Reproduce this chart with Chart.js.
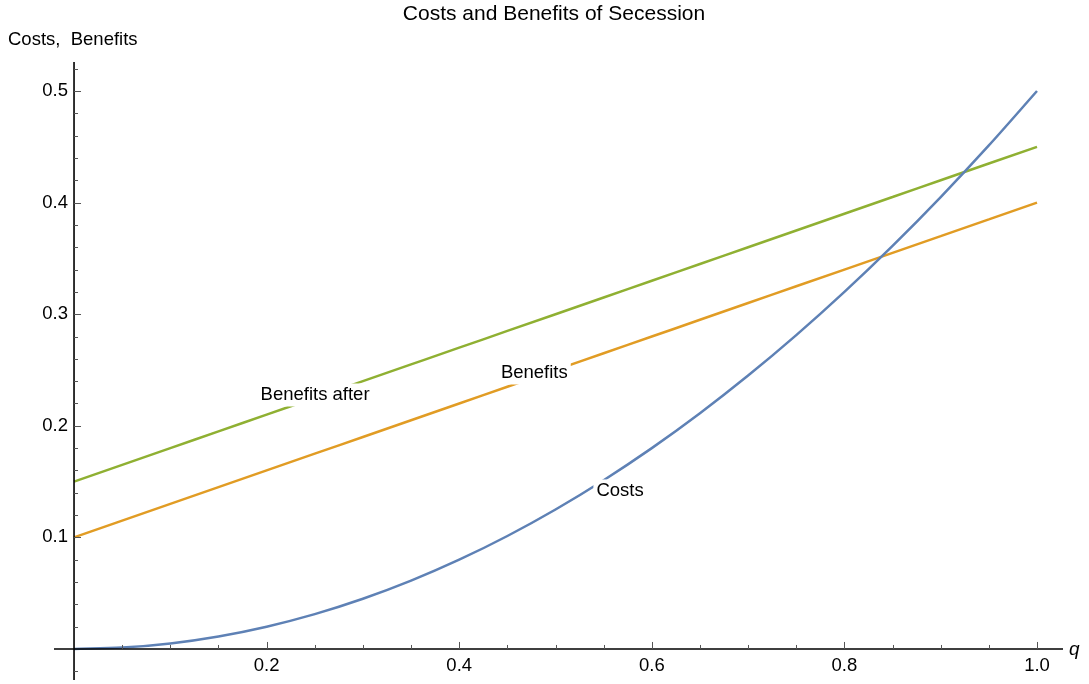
<!DOCTYPE html>
<html>
<head>
<meta charset="utf-8">
<script src="https://cdn.jsdelivr.net/npm/chart.js@4"></script>
<style>
  html, body { margin: 0; padding: 0; background: #fff; }
  #wrap { width: 1089px; height: 684px; }
</style>
</head>
<body>
<div id="wrap"><canvas id="chart"></canvas></div>
<script>
// q values read along the horizontal axis
const qValues = [0, 0.05, 0.1, 0.15, 0.2, 0.25, 0.3, 0.35, 0.4, 0.45, 0.5,
  0.55, 0.6, 0.65, 0.7, 0.75, 0.8, 0.85, 0.9, 0.95, 1.0];
const costs = [0, 0.00125, 0.005, 0.01125, 0.02, 0.03125, 0.045, 0.06125, 0.08, 0.10125, 0.125,
  0.15125, 0.18, 0.21125, 0.245, 0.28125, 0.32, 0.36125, 0.405, 0.45125, 0.5];
const benefits = [0.1, 0.115, 0.13, 0.145, 0.16, 0.175, 0.19, 0.205, 0.22, 0.235, 0.25,
  0.265, 0.28, 0.295, 0.31, 0.325, 0.34, 0.355, 0.37, 0.385, 0.4];
const benefitsAfter = [0.15, 0.165, 0.18, 0.195, 0.21, 0.225, 0.24, 0.255, 0.27, 0.285, 0.3,
  0.315, 0.33, 0.345, 0.36, 0.375, 0.39, 0.405, 0.42, 0.435, 0.45];
const xTickLabels = [0.2, 0.4, 0.6, 0.8, 1.0];
const yTickLabels = [0.1, 0.2, 0.3, 0.4, 0.5];

// where each curve label sits: [q, value]
const curveLabels = [
  { text: 'Benefits after', at: [0.2503, 0.2276] },
  { text: 'Benefits', at: [0.478, 0.2473] },
  { text: 'Costs', at: [0.567, 0.1416] }
];

const FONT = 'Arial, "Liberation Sans", sans-serif';
const pts = ys => qValues.map((q, i) => ({ x: q, y: ys[i] }));

// Mathematica-style axes crossing at the origin, ticks, labels and titles
const axesPlugin = {
  id: 'axesPlugin',
  afterDatasetsDraw(chart) {
    const { ctx, scales: { x, y } } = chart;
    const x0 = x.getPixelForValue(0);
    const y0 = y.getPixelForValue(0);
    ctx.save();

    // curve labels with white boxes over the lines
    ctx.font = '18.5px ' + FONT;
    ctx.textAlign = 'center';
    ctx.textBaseline = 'middle';
    curveLabels.forEach((l) => {
      const px = x.getPixelForValue(l.at[0]);
      const py = y.getPixelForValue(l.at[1]);
      const w = ctx.measureText(l.text).width + 6;
      ctx.fillStyle = '#fff';
      ctx.fillRect(px - w / 2, py - 11.5, w, 23);
      ctx.fillStyle = '#000';
      ctx.fillText(l.text, px, py);
    });

    // axis lines
    ctx.strokeStyle = '#000';
    ctx.lineWidth = 1.6;
    ctx.beginPath();
    ctx.moveTo(chart.chartArea.left, y0);
    ctx.lineTo(chart.chartArea.right, y0);
    ctx.moveTo(x0, chart.chartArea.top);
    ctx.lineTo(x0, chart.chartArea.bottom);
    ctx.stroke();

    // x ticks every 0.05, upward
    ctx.strokeStyle = '#555';
    ctx.lineWidth = 1;
    for (let i = 1; i <= 20; i++) {
      const px = Math.round(x.getPixelForValue(i * 0.05)) + 0.5;
      const len = i % 4 === 0 ? 7 : 4;
      ctx.beginPath();
      ctx.moveTo(px, y0);
      ctx.lineTo(px, y0 - len);
      ctx.stroke();
    }
    // y ticks every 0.02, rightward
    for (let i = -1; i <= 26; i++) {
      if (i === 0) continue;
      const py = Math.round(y.getPixelForValue(i * 0.02)) + 0.5;
      const len = i % 5 === 0 ? 7 : 4;
      ctx.beginPath();
      ctx.moveTo(x0, py);
      ctx.lineTo(x0 + len, py);
      ctx.stroke();
    }

    // tick labels
    ctx.fillStyle = '#000';
    ctx.font = '18.5px ' + FONT;
    ctx.textAlign = 'center';
    ctx.textBaseline = 'middle';
    xTickLabels.forEach((v) => {
      ctx.fillText(v.toFixed(1), x.getPixelForValue(v), y0 + 17);
    });
    ctx.textAlign = 'right';
    yTickLabels.forEach((v) => {
      ctx.fillText(v.toFixed(1), x0 - 6, y.getPixelForValue(v));
    });

    // axis titles
    ctx.font = 'italic 19px ' + FONT;
    ctx.textAlign = 'left';
    ctx.fillText('q', chart.chartArea.right + 6, y0 + 1);
    ctx.font = '18.5px ' + FONT;
    ctx.fillText('Costs,  Benefits', 8, 40);

    // title
    ctx.font = '21px ' + FONT;
    ctx.textAlign = 'center';
    ctx.fillText('Costs and Benefits of Secession', 554, 14);
    ctx.restore();
  }
};

const lineStyle = color => ({
  borderColor: color,
  borderWidth: 2.5,
  pointRadius: 0,
  fill: false,
  cubicInterpolationMode: 'monotone'
});

new Chart(document.getElementById('chart'), {
  type: 'line',
  data: {
    datasets: [
      { label: 'Costs', data: pts(costs), ...lineStyle('#5e81b5') },
      { label: 'Benefits', data: pts(benefits), ...lineStyle('#e19c24') },
      { label: 'Benefits after', data: pts(benefitsAfter), ...lineStyle('#8fb032') }
    ]
  },
  options: {
    responsive: true,
    maintainAspectRatio: false,
    animation: false,
    layout: { padding: { left: 54, right: 26, top: 62, bottom: 4 } },
    plugins: { legend: { display: false }, tooltip: { enabled: false } },
    scales: {
      x: { type: 'linear', min: -0.0208, max: 1.027, display: false },
      y: { type: 'linear', min: -0.0278, max: 0.526, display: false }
    }
  },
  plugins: [axesPlugin]
});
</script>
</body>
</html>
